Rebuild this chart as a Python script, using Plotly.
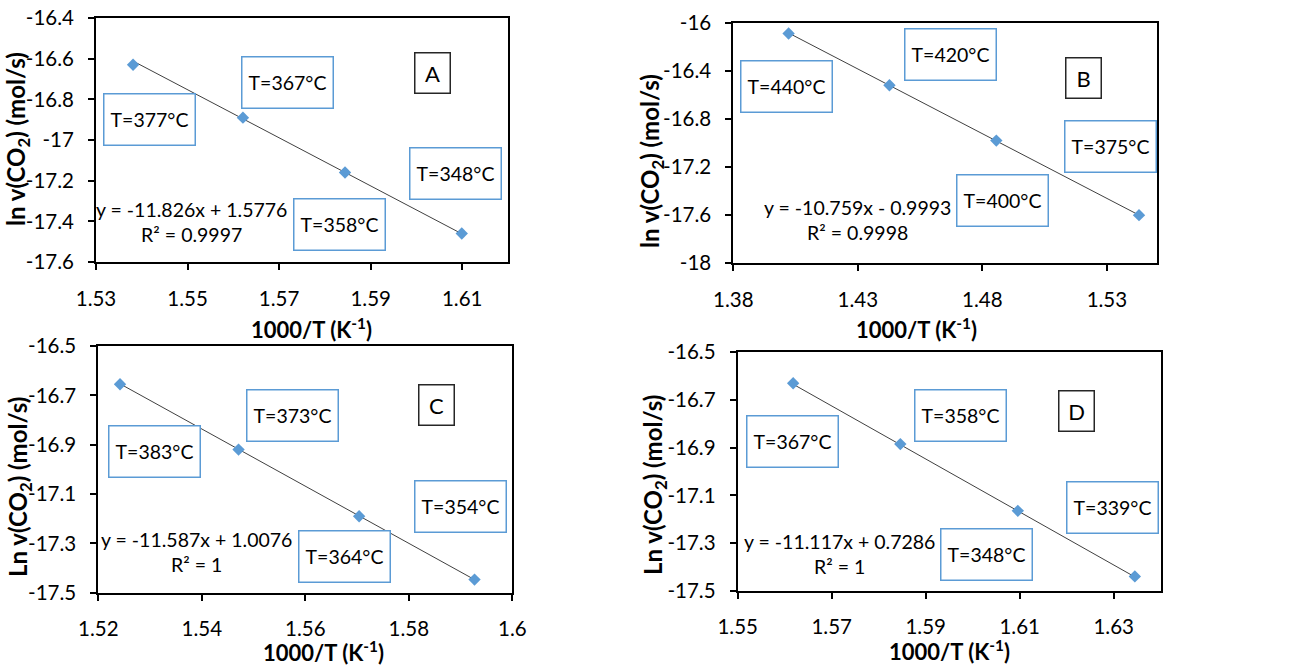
import plotly.graph_objects as go

# ---------------- data ----------------
xA = [1.5381, 1.5621, 1.5844, 1.6099]
yA = [-16.63, -16.89, -17.16, -17.46]
xB = [1.4022, 1.4427, 1.4856, 1.5429]
yB = [-16.09, -16.52, -16.98, -17.60]
xC = [1.5242, 1.5471, 1.5704, 1.5927]
yC = [-16.655, -16.92, -17.19, -17.447]
xD = [1.5618, 1.5846, 1.6096, 1.6345]
yD = [-16.63, -16.885, -17.165, -17.44]

fits = {"A": (-11.826, 1.5776), "B": (-10.759, -0.9993),
        "C": (-11.587, 1.0076), "D": (-11.117, 0.7286)}
eq_text = {"A": "y = -11.826x + 1.5776<br>R² = 0.9997",
           "B": "y = -10.759x - 0.9993<br>R² = 0.9998",
           "C": "y = -11.587x + 1.0076<br>R² = 1",
           "D": "y = -11.117x + 0.7286<br>R² = 1"}
temps = {"A": ["T=377°C", "T=367°C", "T=358°C", "T=348°C"],
         "B": ["T=440°C", "T=420°C", "T=400°C", "T=375°C"],
         "C": ["T=383°C", "T=373°C", "T=364°C", "T=354°C"],
         "D": ["T=367°C", "T=358°C", "T=348°C", "T=339°C"]}

xticks = {"A": [1.53, 1.55, 1.57, 1.59, 1.61],
          "B": [1.38, 1.43, 1.48, 1.53],
          "C": [1.52, 1.54, 1.56, 1.58, 1.6],
          "D": [1.55, 1.57, 1.59, 1.61, 1.63]}
xtick_text = {"A": ["1.53", "1.55", "1.57", "1.59", "1.61"],
              "B": ["1.38", "1.43", "1.48", "1.53"],
              "C": ["1.52", "1.54", "1.56", "1.58", "1.6"],
              "D": ["1.55", "1.57", "1.59", "1.61", "1.63"]}
yticks = {"A": [-16.4, -16.6, -16.8, -17, -17.2, -17.4, -17.6],
          "B": [-16, -16.4, -16.8, -17.2, -17.6, -18],
          "C": [-16.5, -16.7, -16.9, -17.1, -17.3, -17.5],
          "D": [-16.5, -16.7, -16.9, -17.1, -17.3, -17.5]}
ytick_text = {"A": ["-16.4", "-16.6", "-16.8", "-17", "-17.2", "-17.4", "-17.6"],
              "B": ["-16", "-16.4", "-16.8", "-17.2", "-17.6", "-18"],
              "C": ["-16.5", "-16.7", "-16.9", "-17.1", "-17.3", "-17.5"],
              "D": ["-16.5", "-16.7", "-16.9", "-17.1", "-17.3", "-17.5"]}
xranges = {"A": [1.53, 1.62], "B": [1.38, 1.55], "C": [1.52, 1.6], "D": [1.55, 1.64]}
yranges = {"A": [-17.6, -16.4], "B": [-18, -16], "C": [-17.5, -16.5], "D": [-17.5, -16.5]}
ytitles = {"A": "ln v(CO<sub>2</sub>) (mol/s)", "B": "ln v(CO<sub>2</sub>) (mol/s)",
           "C": "Ln v(CO<sub>2</sub>) (mol/s)", "D": "Ln v(CO<sub>2</sub>) (mol/s)"}
xtitle = "1000/T (K<sup>-1</sup>)"

data = {"A": (xA, yA), "B": (xB, yB), "C": (xC, yC), "D": (xD, yD)}

# ---------------- layout geometry (pixels in 1293x666) ----------------
W, H = 1293, 666
FONT = "Lato, Carlito, Calibri, sans-serif"
plot_px = {"A": (96, 508, 18, 262), "B": (733.3, 1156.7, 22.7, 263.3),
           "C": (98.3, 512.3, 346, 592.7), "D": (737.7, 1160.7, 352.3, 590.7)}
box_pos = {"A": [(0.130, 0.583), (0.465, 0.734), (0.592, 0.152), (0.872, 0.361)],
           "B": [(0.125, 0.736), (0.513, 0.867), (0.635, 0.261), (0.891, 0.487)],
           "C": [(0.135, 0.572), (0.468, 0.720), (0.594, 0.146), (0.874, 0.351)],
           "D": [(0.130, 0.626), (0.526, 0.734), (0.589, 0.151), (0.885, 0.347)]}
letter_pos = {"A": (0.817, 0.773), "B": (0.827, 0.769), "C": (0.818, 0.761), "D": (0.800, 0.753)}
eq_pos = {"A": (0.231, 0.164), "B": (0.293, 0.180), "C": (0.238, 0.163), "D": (0.241, 0.152)}
xtitle_px = {"A": (311, 328), "B": (916.7, 328), "C": (323.3, 651.7), "D": (949, 650)}
ytitle_px = {"A": (17, 139), "B": (651, 161), "C": (19, 487), "D": (654, 485)}

fig = go.Figure()
annotations = []
layout = {}
for i, key in enumerate(["A", "B", "C", "D"]):
    n = "" if i == 0 else str(i + 1)
    xs, ys = data[key]
    l, r, t, b = plot_px[key]
    xa, ya = "x" + n, "y" + n
    slope, icpt = fits[key]
    x_line = [min(xs), max(xs)]
    y_line = [slope * v + icpt for v in x_line]
    fig.add_trace(go.Scatter(x=x_line, y=y_line, mode="lines", xaxis=xa, yaxis=ya,
                             line=dict(color="#404040", width=1), showlegend=False,
                             hoverinfo="skip"))
    fig.add_trace(go.Scatter(x=xs, y=ys, mode="markers", xaxis=xa, yaxis=ya,
                             marker=dict(symbol="diamond", size=9.5, color="#5B9BD5"),
                             showlegend=False))
    common = dict(showline=True, linecolor="black", linewidth=2, mirror=True,
                  ticks="outside", ticklen=6, tickwidth=1.5, tickcolor="black",
                  showgrid=False, zeroline=False, automargin=False,
                  tickfont=dict(family=FONT, size=20.5, color="black"))
    layout["xaxis" + n] = dict(domain=[l / W, r / W], anchor=ya, range=xranges[key],
                               tickmode="array", tickvals=xticks[key],
                               ticktext=xtick_text[key], ticklabelstandoff=11, **common)
    layout["yaxis" + n] = dict(domain=[1 - b / H, 1 - t / H], anchor=xa, range=yranges[key],
                               tickmode="array", tickvals=yticks[key],
                               ticktext=ytick_text[key], ticklabelstandoff=10, **common)
    xd, yd = xa + " domain", ya + " domain"
    for (fx, fy), txt in zip(box_pos[key], temps[key]):
        annotations.append(dict(x=fx, y=fy, xref=xd, yref=yd, text=txt, showarrow=False,
                                xanchor="center", yanchor="middle", width=90, height=50,
                                borderpad=0, bordercolor="#5B9BD5", borderwidth=1.5,
                                bgcolor="white",
                                font=dict(family=FONT, size=19.5, color="black")))
    fx, fy = letter_pos[key]
    annotations.append(dict(x=fx, y=fy, xref=xd, yref=yd, text=key, showarrow=False,
                            xanchor="center", yanchor="middle", width=34, height=39,
                            borderpad=0, bordercolor="#262626", borderwidth=1.5,
                            bgcolor="white",
                            font=dict(family=FONT, size=22, color="black")))
    fx, fy = eq_pos[key]
    annotations.append(dict(x=fx, y=fy, xref=xd, yref=yd, text=eq_text[key], showarrow=False,
                            xanchor="center", yanchor="middle", align="center",
                            font=dict(family=FONT, size=19.5, color="black")))
    px_, py_ = xtitle_px[key]
    annotations.append(dict(x=px_ / W, y=1 - py_ / H, xref="paper", yref="paper",
                            text="<b>" + xtitle + "</b>", showarrow=False,
                            xanchor="center", yanchor="middle",
                            font=dict(family=FONT, size=22, color="black")))
    px_, py_ = ytitle_px[key]
    annotations.append(dict(x=px_ / W, y=1 - py_ / H, xref="paper", yref="paper",
                            text="<b>" + ytitles[key] + "</b>", showarrow=False,
                            textangle=-90, xanchor="center", yanchor="middle",
                            font=dict(family=FONT, size=24, color="black")))

fig.update_layout(template="none", width=W, height=H, margin=dict(l=0, r=0, t=0, b=0),
                  paper_bgcolor="white", plot_bgcolor="white",
                  annotations=annotations, font=dict(family=FONT, color="black"),
                  **layout)
fig.write_html("out.html", config={"displayModeBar": False},
               post_script="document.body.style.margin='0px';"
                           "document.body.style.overflow='hidden';")
